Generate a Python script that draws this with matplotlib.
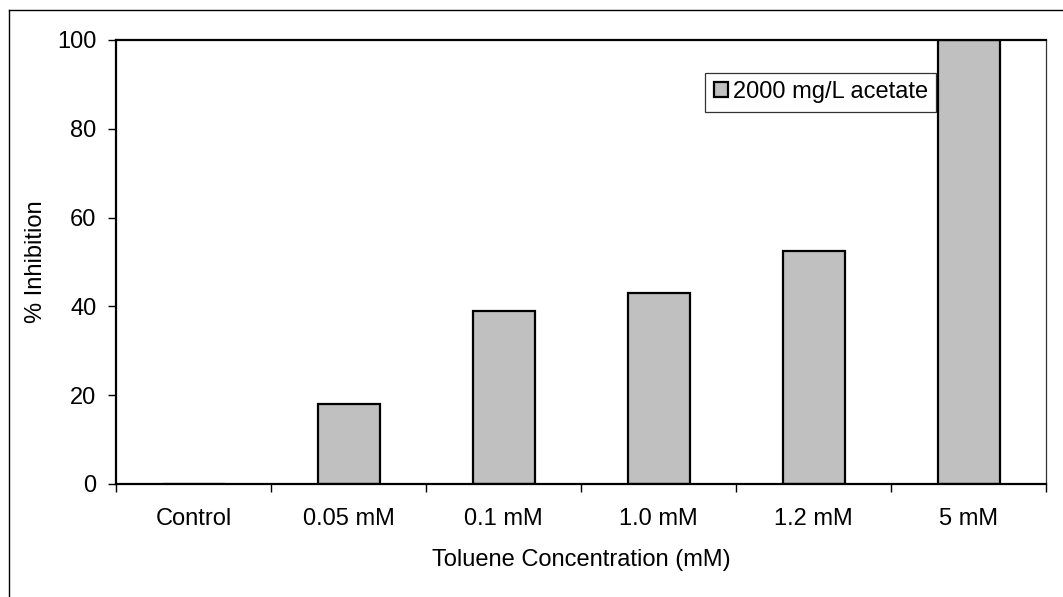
"""
% Inhibition vs toluene concentration — bar chart, Excel-style.
"""

import matplotlib
matplotlib.use("Agg")
import matplotlib.pyplot as plt
from matplotlib.lines import Line2D
import numpy as np

# ── Data ───────────────────────────────────────────────────────────────────────
categories = ["Control", "0.05 mM", "0.1 mM", "1.0 mM", "1.2 mM", "5 mM"]
inhibition = [0.0, 18.0, 39.0, 43.0, 52.5, 100.0]
series_name = "2000 mg/L acetate"
y_ticks = [0, 20, 40, 60, 80, 100]

plt.rcParams["font.family"] = ["Liberation Sans", "DejaVu Sans"]

W, H = 1063, 597
fig = plt.figure(figsize=(W / 100, H / 100), dpi=100)
ax = fig.add_axes([116 / W, 1 - 484 / H, 930 / W, 444 / H])

# outer chart frame (left/top visible, right/bottom run off the canvas)
fig.add_artist(Line2D([9 / W, 9 / W], [0, 1 - 10 / H], color="black", lw=1.0, transform=fig.transFigure))
fig.add_artist(Line2D([9 / W, 1], [1 - 10 / H, 1 - 10 / H], color="black", lw=1.0, transform=fig.transFigure))

x = np.arange(len(categories))
ax.bar(x, inhibition, width=0.4, color="#C0C0C0", edgecolor="black", linewidth=1.6,
       label=series_name, zorder=3)

ax.set_xlim(-0.5, len(categories) - 0.5)
ax.set_ylim(0, 100)
ax.set_yticks(y_ticks)
ax.set_xticks(x)
ax.set_xticklabels(categories)
ax.set_xticks(np.arange(len(categories) + 1) - 0.5, minor=True)

ax.tick_params(axis="x", which="major", length=0, pad=17, labelsize=17)
ax.tick_params(axis="x", which="minor", length=6, width=1, direction="out")
ax.tick_params(axis="y", length=6, width=1, direction="out", pad=8, labelsize=17)

for side in ["left", "bottom", "top"]:
    ax.spines[side].set_linewidth(1.6)
    ax.spines[side].set_zorder(4)
ax.spines["right"].set_linewidth(0.9)
ax.spines["right"].set_color("#333333")

ax.set_xlabel("Toluene Concentration (mM)", fontsize=17, labelpad=14)
ax.set_ylabel("% Inhibition", fontsize=17, labelpad=7)

leg = ax.legend(loc="upper right", bbox_to_anchor=(936 / W, 1 - 73 / H),
                bbox_transform=fig.transFigure, fontsize=17, frameon=True,
                fancybox=False, shadow=False, borderpad=0.35, handlelength=0.6,
                handleheight=0.6, handletextpad=0.2, borderaxespad=0)
leg.get_frame().set_edgecolor("black")
leg.get_frame().set_linewidth(0.9)

plt.savefig("out.png", dpi=100)
plt.close()
